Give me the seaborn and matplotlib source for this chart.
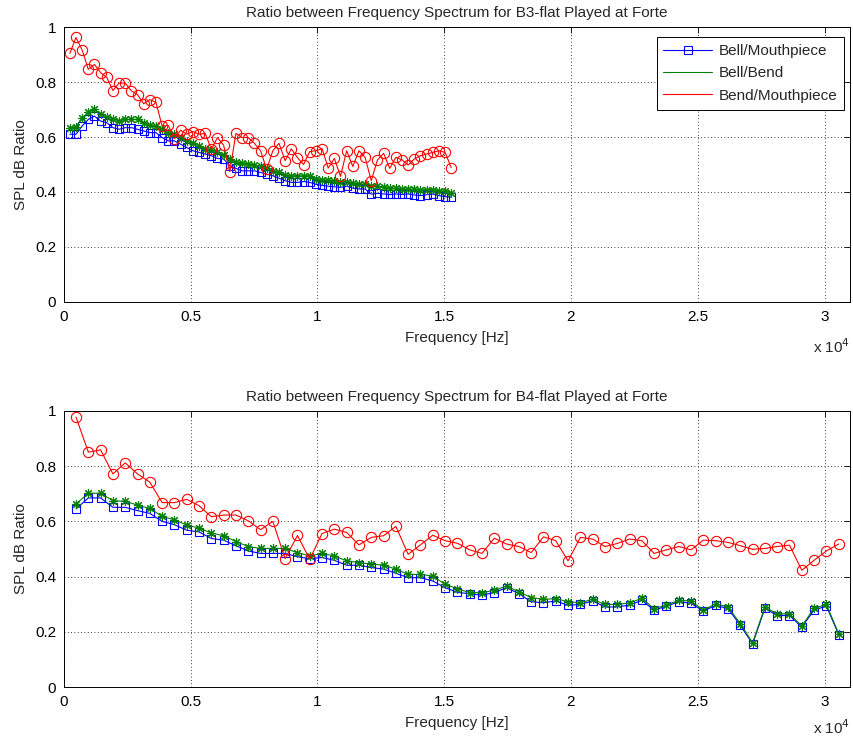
import numpy as np
import matplotlib
matplotlib.use("Agg")
import matplotlib.pyplot as plt
from matplotlib.lines import Line2D
from matplotlib.ticker import FuncFormatter, MultipleLocator
import seaborn as sns

sns.set_style("white")
plt.rcParams["font.family"] = ["Liberation Sans", "DejaVu Sans"]
plt.rcParams["font.size"] = 11
FS = 11

# Harmonic index and spacing of the analysed partials
harmonic = np.arange(1, 64)
f0_b3 = 242.5   # Hz
f0_b4 = 485.0   # Hz
freq_b3 = harmonic * f0_b3
freq_b4 = harmonic * f0_b4

# ---- B3-flat, forte ----
b3_bell_mouth = [
    0.610, 0.610, 0.640, 0.664, 0.676, 0.658, 0.652, 0.634, 0.628, 0.634,
    0.634, 0.628, 0.622, 0.616, 0.616, 0.598, 0.586, 0.586, 0.574, 0.562,
    0.550, 0.544, 0.538, 0.532, 0.522, 0.520, 0.496, 0.486, 0.477, 0.477,
    0.477, 0.471, 0.465, 0.459, 0.450, 0.441, 0.435, 0.435, 0.438, 0.435,
    0.428, 0.424, 0.421, 0.419, 0.417, 0.421, 0.414, 0.411, 0.411, 0.392,
    0.395, 0.393, 0.391, 0.393, 0.391, 0.393, 0.389, 0.387, 0.390, 0.393,
    0.387, 0.383, 0.381,
]
b3_bell_bend = [
    0.634, 0.637, 0.670, 0.690, 0.702, 0.682, 0.673, 0.666, 0.658, 0.664,
    0.664, 0.664, 0.652, 0.642, 0.640, 0.628, 0.616, 0.610, 0.598, 0.586,
    0.577, 0.568, 0.558, 0.553, 0.544, 0.534, 0.520, 0.508, 0.505, 0.502,
    0.498, 0.493, 0.486, 0.477, 0.471, 0.462, 0.459, 0.459, 0.459, 0.459,
    0.447, 0.445, 0.443, 0.440, 0.438, 0.437, 0.433, 0.430, 0.428, 0.420,
    0.420, 0.418, 0.415, 0.413, 0.412, 0.410, 0.410, 0.408, 0.409, 0.408,
    0.405, 0.402, 0.398,
]
b3_bend_mouth = [
    0.904, 0.962, 0.916, 0.846, 0.864, 0.834, 0.817, 0.769, 0.796, 0.796,
    0.768, 0.754, 0.721, 0.736, 0.726, 0.640, 0.642, 0.594, 0.625, 0.610,
    0.620, 0.610, 0.613, 0.556, 0.598, 0.570, 0.474, 0.613, 0.598, 0.598,
    0.577, 0.550, 0.483, 0.550, 0.577, 0.514, 0.557, 0.525, 0.500, 0.547,
    0.550, 0.558, 0.487, 0.522, 0.457, 0.550, 0.493, 0.550, 0.526, 0.441,
    0.516, 0.541, 0.486, 0.526, 0.517, 0.498, 0.520, 0.532, 0.538, 0.544,
    0.550, 0.544, 0.489,
]

# ---- B4-flat, forte ----
b4_bell_mouth = [
    0.645, 0.685, 0.685, 0.651, 0.651, 0.639, 0.629, 0.600, 0.588, 0.568,
    0.562, 0.538, 0.532, 0.512, 0.493, 0.484, 0.484, 0.484, 0.472, 0.465,
    0.469, 0.459, 0.441, 0.441, 0.433, 0.427, 0.412, 0.396, 0.396, 0.384,
    0.360, 0.343, 0.338, 0.333, 0.342, 0.360, 0.338, 0.309, 0.305, 0.312,
    0.296, 0.299, 0.312, 0.290, 0.290, 0.297, 0.314, 0.278, 0.293, 0.309,
    0.303, 0.275, 0.296, 0.284, 0.224, 0.156, 0.285, 0.259, 0.259, 0.217,
    0.279, 0.293, 0.190,
]
b4_bell_bend = [
    0.663, 0.702, 0.702, 0.675, 0.673, 0.659, 0.647, 0.618, 0.606, 0.587,
    0.576, 0.558, 0.548, 0.527, 0.509, 0.502, 0.502, 0.502, 0.487, 0.475,
    0.484, 0.475, 0.457, 0.451, 0.445, 0.442, 0.427, 0.408, 0.408, 0.402,
    0.372, 0.356, 0.342, 0.342, 0.350, 0.366, 0.345, 0.324, 0.318, 0.320,
    0.309, 0.305, 0.318, 0.299, 0.299, 0.305, 0.321, 0.284, 0.297, 0.314,
    0.312, 0.278, 0.302, 0.290, 0.230, 0.160, 0.290, 0.265, 0.265, 0.221,
    0.285, 0.299, 0.193,
]
b4_bend_mouth = [
    0.978, 0.851, 0.859, 0.772, 0.812, 0.772, 0.742, 0.668, 0.668, 0.680,
    0.657, 0.617, 0.623, 0.623, 0.602, 0.570, 0.600, 0.465, 0.549, 0.463,
    0.556, 0.572, 0.560, 0.515, 0.542, 0.548, 0.582, 0.481, 0.515, 0.550,
    0.530, 0.521, 0.497, 0.484, 0.539, 0.518, 0.509, 0.487, 0.544, 0.530,
    0.457, 0.542, 0.536, 0.509, 0.520, 0.536, 0.530, 0.484, 0.497, 0.509,
    0.497, 0.532, 0.530, 0.524, 0.512, 0.499, 0.502, 0.509, 0.514, 0.423,
    0.459, 0.493, 0.518,
]

series_labels = ["Bell/Mouthpiece", "Bell/Bend", "Bend/Mouthpiece"]
titles = [
    "Ratio between Frequency Spectrum for B3-flat Played at Forte",
    "Ratio between Frequency Spectrum for B4-flat Played at Forte",
]

BLUE = (0.0, 0.0, 1.0)
GREEN = (0.0, 0.5, 0.0)
RED = (1.0, 0.0, 0.0)
ASTERISK = (8, 2, 0)

fig = plt.figure(figsize=(8.54, 7.38), dpi=100)
ax_top = fig.add_axes([0.0746, 0.5908, 0.9207, 0.3726])
ax_bot = fig.add_axes([0.0746, 0.0691, 0.9207, 0.3740])

panels = [
    (ax_top, freq_b3, b3_bell_mouth, b3_bell_bend, b3_bend_mouth, titles[0], -0.163),
    (ax_bot, freq_b4, b4_bell_mouth, b4_bell_bend, b4_bend_mouth, titles[1], -0.148),
]

for ax, freq, bm, bb, bem, title, exp_y in panels:
    sns.lineplot(x=freq, y=bm, ax=ax, color=BLUE, linewidth=0.8,
                 marker="s", markersize=6.2, markerfacecolor="none",
                 markeredgecolor=BLUE, markeredgewidth=0.8, zorder=3)
    sns.lineplot(x=freq, y=bb, ax=ax, color=GREEN, linewidth=0.8,
                 marker=ASTERISK, markersize=6.5, markeredgecolor=GREEN,
                 markeredgewidth=0.8, zorder=4)
    sns.lineplot(x=freq, y=bem, ax=ax, color=RED, linewidth=0.8,
                 marker="o", markersize=7.4, markerfacecolor="none",
                 markeredgecolor=RED, markeredgewidth=0.8, zorder=5)

    ax.set_xlim(0, 31000)
    ax.set_ylim(0, 1)
    ax.xaxis.set_major_locator(MultipleLocator(5000))
    ax.yaxis.set_major_locator(MultipleLocator(0.2))
    ax.xaxis.set_major_formatter(FuncFormatter(lambda v, p: f"{v / 1e4:g}"))
    ax.yaxis.set_major_formatter(FuncFormatter(lambda v, p: f"{v:g}"))
    ax.grid(True, color="black", linestyle=(0, (1, 3)), linewidth=0.6)
    ax.set_axisbelow(True)
    ax.tick_params(direction="in", top=True, right=True, length=4,
                   width=0.6, labelsize=FS, pad=5.5, colors="black")
    for sp in ax.spines.values():
        sp.set_color("black")
        sp.set_linewidth(0.7)
    ax.set_title(title, fontsize=FS, pad=7)
    ax.set_xlabel("Frequency [Hz]", fontsize=FS, labelpad=5)
    ax.set_ylabel("SPL dB Ratio", fontsize=FS, labelpad=5)
    ax.text(1.0, exp_y, r"x 10$^{4}$", transform=ax.transAxes,
            ha="right", va="center", fontsize=FS)

handles = [
    Line2D([], [], color=BLUE, linewidth=0.8, marker="s", markersize=6.2,
           markerfacecolor="none", markeredgecolor=BLUE, markeredgewidth=0.8),
    Line2D([], [], color=GREEN, linewidth=0.8),
    Line2D([], [], color=RED, linewidth=0.8),
]
leg = ax_top.legend(handles, series_labels, loc="upper right",
                    bbox_to_anchor=(0.9924, 0.9636), borderaxespad=0,
                    fancybox=False, frameon=True, edgecolor="black",
                    framealpha=1, fontsize=FS, handlelength=3.2,
                    handletextpad=0.4, labelspacing=0.55, borderpad=0.45,
                    numpoints=1)
leg.get_frame().set_linewidth(0.7)

fig.savefig("out.png", dpi=100)
